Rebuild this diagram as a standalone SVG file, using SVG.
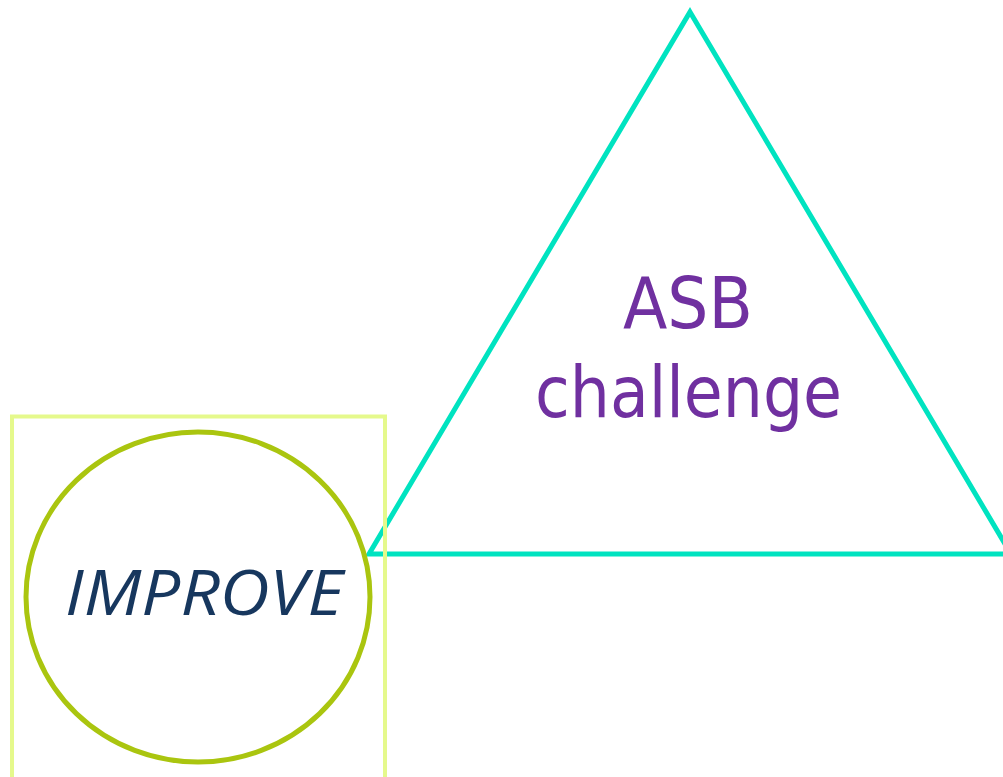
<svg xmlns="http://www.w3.org/2000/svg" width="1003" height="777" viewBox="0 0 1003 777">
<style>
.tri{fill:none;stroke:#00E3C0;stroke-width:5;stroke-linejoin:miter}
.box{fill:none;stroke:#E5F98C;stroke-width:4}
.circ{fill:none;stroke:#AAC50F;stroke-width:5}
.asb{font-family:"DejaVu Sans Condensed","DejaVu Sans",sans-serif;font-size:72px;fill:#7030A0;text-anchor:middle}
.imp{font-family:"Open Sans",sans-serif;font-style:italic;font-size:63px;fill:#17375E;text-anchor:middle}
</style>
<rect width="1003" height="777" fill="#FFFFFF"/>
<g id="asb-challenge">
<polygon class="tri" points="690,12 1011,554 369,554"/>
<text class="asb" x="688" y="328">ASB</text>
<text class="asb" x="688.5" y="417" textLength="307" lengthAdjust="spacingAndGlyphs">challenge</text>
</g>
<g id="improve-frame">
<rect class="box" x="12" y="416.5" width="373" height="400"/>
</g>
<g id="improve">
<ellipse class="circ" cx="198" cy="597" rx="172" ry="165"/>
<text class="imp" x="204" y="615" textLength="278" lengthAdjust="spacingAndGlyphs">IMPROVE</text>
</g>
<g id="connectors"></g>
</svg>
